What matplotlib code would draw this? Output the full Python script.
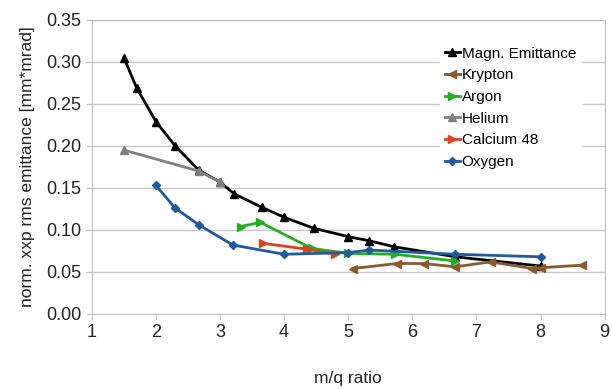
import matplotlib
matplotlib.use("Agg")
import matplotlib.pyplot as plt

plt.rcParams['font.family'] = ['Liberation Sans', 'DejaVu Sans']

# data
magn_x = [1.5, 1.7, 2.0, 2.3, 2.67, 3.0, 3.22, 3.65, 4.0, 4.46, 5.0, 5.33, 5.71, 6.67, 8.0]
magn_y = [0.305, 0.269, 0.229, 0.200, 0.171, 0.157, 0.143, 0.127, 0.115, 0.102, 0.092, 0.087, 0.080, 0.068, 0.057]

krypton_x = [5.07, 5.76, 6.18, 6.67, 7.22, 7.87, 8.0, 8.64]
krypton_y = [0.054, 0.060, 0.060, 0.056, 0.062, 0.054, 0.055, 0.058]

argon_x = [3.32, 3.63, 4.43, 5.0, 5.73, 6.67]
argon_y = [0.104, 0.109, 0.078, 0.072, 0.071, 0.063]

helium_x = [1.5, 2.67, 3.0]
helium_y = [0.195, 0.170, 0.157]

calcium_x = [3.67, 4.36, 4.8]
calcium_y = [0.084, 0.077, 0.071]

oxygen_x = [2.0, 2.3, 2.67, 3.2, 4.0, 5.0, 5.33, 6.67, 8.0]
oxygen_y = [0.153, 0.126, 0.106, 0.082, 0.071, 0.073, 0.076, 0.071, 0.068]

fig = plt.figure(figsize=(6.12, 3.89), dpi=100)
ax = fig.add_axes([0.150, 0.193, 0.838, 0.756])

ax.plot(magn_x, magn_y, color='black', lw=2, marker='^', ms=6, label='Magn. Emittance')
ax.plot(krypton_x, krypton_y, color='#8a5a2e', lw=2, marker='<', ms=6, label='Krypton')
ax.plot(argon_x, argon_y, color='#22b022', lw=2, marker='>', ms=6, label='Argon')
ax.plot(helium_x, helium_y, color='#808080', lw=2, marker='^', ms=6, label='Helium')
ax.plot(calcium_x, calcium_y, color='#e0401a', lw=2, marker='>', ms=6, label='Calcium 48')
ax.plot(oxygen_x, oxygen_y, color='#1f5a9a', lw=2, marker='D', ms=4.5, label='Oxygen')

ax.set_xlim(1, 9)
ax.set_ylim(0, 0.35)
ax.set_xticks(range(1, 10))
ax.set_yticks([i * 0.05 for i in range(8)])
ax.yaxis.set_major_formatter(matplotlib.ticker.FormatStrFormatter('%.2f'))
ax.grid(axis='y', color='#c8c8c8', lw=1)
ax.set_axisbelow(True)
for s in ax.spines.values():
    s.set_color('#c0c0c0')
ax.tick_params(colors='#c0c0c0', labelcolor='#222222', labelsize=13, length=4)

ax.set_xlabel('m/q ratio', fontsize=12.5, labelpad=21, color='#222222')
ax.set_ylabel('norm. xxp rms emittance [mm*mrad]', fontsize=12.5, labelpad=8, color='#222222')

leg = ax.legend(loc='upper right', bbox_to_anchor=(0.968, 0.95), fontsize=11, frameon=True,
                handlelength=1.0, handletextpad=0.1, labelspacing=0.5, borderpad=0.3)
leg.get_frame().set_edgecolor('white')
leg.get_frame().set_alpha(1)
leg.get_frame().set_boxstyle('square', pad=0)

fig.savefig('out.png', dpi=100)
